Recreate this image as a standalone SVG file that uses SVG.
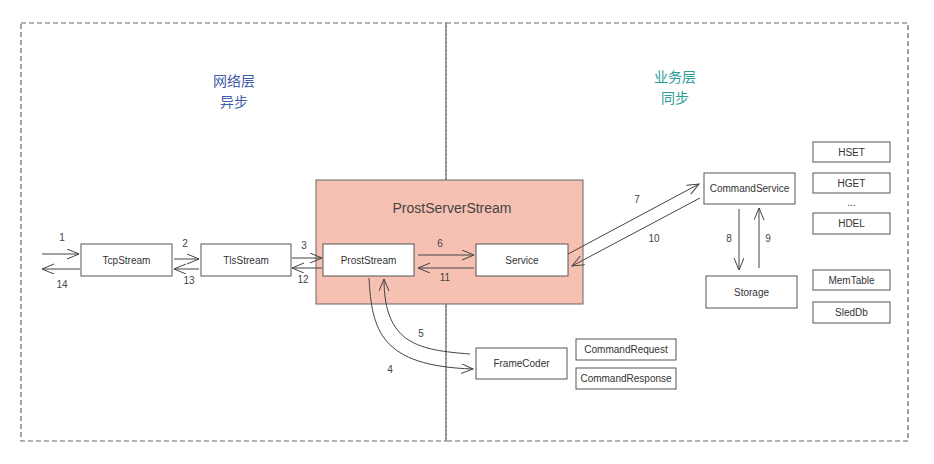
<svg xmlns="http://www.w3.org/2000/svg" width="934" height="464" viewBox="0 0 934 464">
<style>
.zone{fill:none;stroke:#666;stroke-width:1.2;stroke-dasharray:5,3}
.box{fill:#fff;stroke:#555;stroke-width:1}
.big{fill:#F6C1B3;stroke:#666;stroke-width:1}
.lbl{font-family:"Liberation Sans",Arial,sans-serif;font-size:10px;fill:#333;text-anchor:middle;dominant-baseline:central}
.num{font-family:"Liberation Sans",Arial,sans-serif;font-size:10px;fill:#444;text-anchor:middle;dominant-baseline:central}
.title{font-family:"Liberation Sans",Arial,sans-serif;font-size:14px;fill:#444;text-anchor:middle;dominant-baseline:central}
.cjk{font-family:"Noto Sans CJK SC","Noto Sans",sans-serif;font-size:14px;text-anchor:middle;dominant-baseline:central}
.edge{fill:none;stroke:#444;stroke-width:1;marker-end:url(#arr)}
</style>
<defs>
<marker id="arr" markerUnits="userSpaceOnUse" markerWidth="14" markerHeight="12" refX="12" refY="5" orient="auto">
<path d="M0,0 L12,5 L0,10" fill="none" stroke="#444" stroke-width="1"/>
</marker>
</defs>
<g id="zones">
<rect class="zone" x="21" y="23" width="425" height="418"/>
<rect class="zone" x="446" y="23" width="462" height="418"/>
<text class="cjk" x="234" y="80" fill="#3F5BA9">网络层</text>
<text class="cjk" x="234" y="101" fill="#3F5BA9">异步</text>
<text class="cjk" x="675" y="76" fill="#2E9C98">业务层</text>
<text class="cjk" x="675" y="97" fill="#2E9C98">同步</text>
</g>
<g id="ProstServerStream">
<rect class="big" x="316" y="180" width="267" height="124"/>
<text class="title" x="452" y="208">ProstServerStream</text>
</g>
<g id="TcpStream"><rect class="box" x="81" y="244" width="91" height="32"/><text class="lbl" x="126.5" y="260">TcpStream</text></g>
<g id="TlsStream"><rect class="box" x="201" y="244" width="90" height="32"/><text class="lbl" x="246" y="260">TlsStream</text></g>
<g id="ProstStream"><rect class="box" x="323" y="244" width="91" height="32"/><text class="lbl" x="368.5" y="260">ProstStream</text></g>
<g id="Service"><rect class="box" x="476" y="244" width="92" height="32"/><text class="lbl" x="522" y="260">Service</text></g>
<g id="FrameCoder"><rect class="box" x="476" y="348" width="91" height="31"/><text class="lbl" x="521.5" y="363.5">FrameCoder</text></g>
<g id="CommandRequest"><rect class="box" x="576" y="339" width="100" height="21"/><text class="lbl" x="626" y="349.5">CommandRequest</text></g>
<g id="CommandResponse"><rect class="box" x="576" y="368" width="100" height="21"/><text class="lbl" x="626" y="378.5">CommandResponse</text></g>
<g id="CommandService"><rect class="box" x="704" y="173" width="91" height="31"/><text class="lbl" x="749.5" y="188.5">CommandService</text></g>
<g id="Storage"><rect class="box" x="706" y="276" width="91" height="32"/><text class="lbl" x="751.5" y="292">Storage</text></g>
<g id="HSET"><rect class="box" x="813" y="142" width="77" height="20"/><text class="lbl" x="851.5" y="152">HSET</text></g>
<g id="HGET"><rect class="box" x="813" y="173" width="77" height="20"/><text class="lbl" x="851.5" y="183">HGET</text></g>
<g id="Ellipsis"><text class="lbl" x="851.5" y="202">...</text></g>
<g id="HDEL"><rect class="box" x="813" y="213" width="77" height="21"/><text class="lbl" x="851.5" y="223.5">HDEL</text></g>
<g id="MemTable"><rect class="box" x="813" y="270" width="77" height="20"/><text class="lbl" x="851.5" y="280">MemTable</text></g>
<g id="SledDb"><rect class="box" x="813" y="302" width="77" height="21"/><text class="lbl" x="851.5" y="312.5">SledDb</text></g>
<g id="connectors">
<path class="edge" d="M42,254 L79,254"/>
<path class="edge" d="M80,269 L42,269"/>
<path class="edge" d="M174,259 L199,259"/>
<path class="edge" d="M199,269 L174,269"/>
<path class="edge" d="M292,258 L322,258"/>
<path class="edge" d="M322,268 L292,268"/>
<path class="edge" d="M418,255 L474,255"/>
<path class="edge" d="M474,268 L418,268"/>
<path class="edge" d="M568,254 L699,184"/>
<path class="edge" d="M700,198 L572,266"/>
<path class="edge" d="M739,209 L739,270"/>
<path class="edge" d="M759,268 L759,208"/>
<path class="edge" d="M369,278 C372,330 380,366 473,369"/>
<path class="edge" d="M470,354 C420,350 384,345 384,279"/>
<text class="num" x="62" y="237">1</text>
<text class="num" x="62" y="284">14</text>
<text class="num" x="185" y="243">2</text>
<text class="num" x="189" y="280">13</text>
<text class="num" x="304" y="245">3</text>
<text class="num" x="303" y="279">12</text>
<text class="num" x="440" y="243">6</text>
<text class="num" x="445" y="277">11</text>
<text class="num" x="637" y="199">7</text>
<text class="num" x="654" y="238">10</text>
<text class="num" x="729" y="238">8</text>
<text class="num" x="768" y="238">9</text>
<text class="num" x="421" y="333">5</text>
<text class="num" x="390" y="369">4</text>
</g>
</svg>
